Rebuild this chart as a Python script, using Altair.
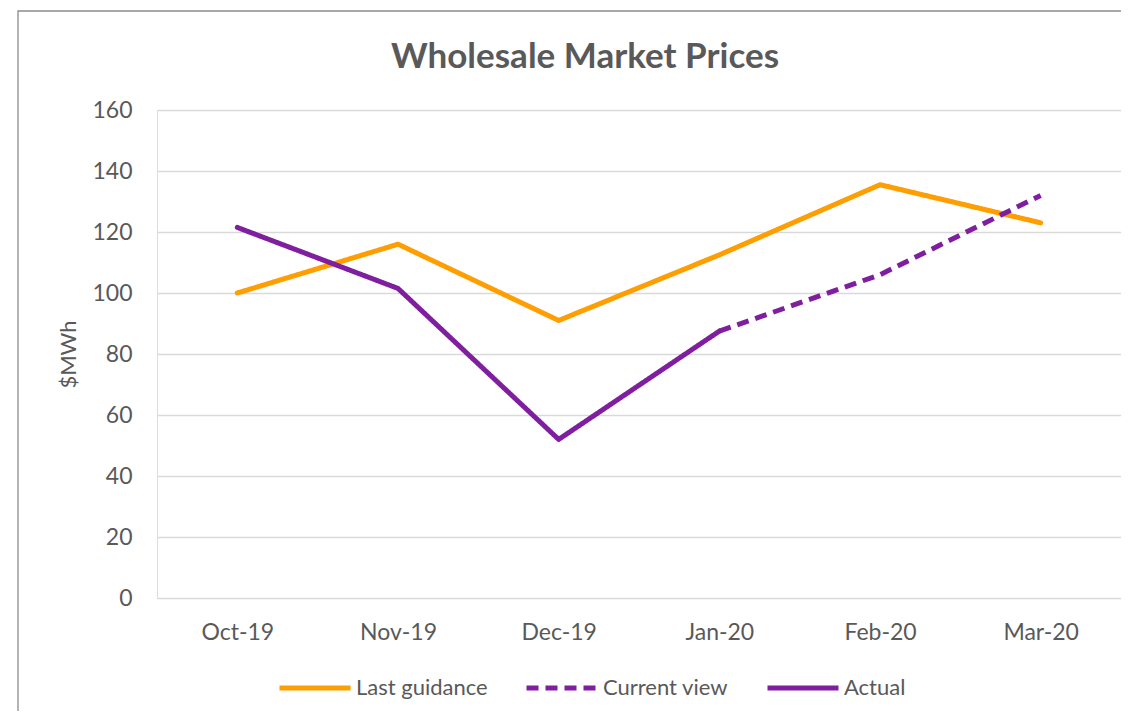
import altair as alt
import pandas as pd

months = ["Oct-19", "Nov-19", "Dec-19", "Jan-20", "Feb-20", "Mar-20"]
series_names = ["Last guidance", "Current view", "Actual"]
last_guidance = [100, 116, 91, 112.5, 135.5, 123]
current_view = [None, None, None, 87.5, 106, 132]
actual = [121.5, 101.5, 52, 87.5, None, None]
y_ticks = [0, 20, 40, 60, 80, 100, 120, 140, 160]

ORANGE = "#FF9E00"
PURPLE = "#7F1F9F"
GREY = "#595959"
FONT = "Lato"

rows = []
for name, vals in zip(series_names, [last_guidance, current_view, actual]):
    for m, v in zip(months, vals):
        if v is not None:
            rows.append({"month": m, "series": name, "value": v})
df = pd.DataFrame(rows)

legend_kw = dict(
    orient="none", legendX=120, legendY=540, direction="horizontal", title=None,
    labelFont=FONT, labelFontSize=22, labelColor=GREY, labelOffset=3,
    symbolType="stroke", symbolSize=5041, symbolStrokeWidth=5, columnPadding=28,
)

base = alt.Chart(df).encode(
    x=alt.X("month:N", sort=months,
            scale=alt.Scale(type="point", padding=0.5),
            axis=alt.Axis(title=None, labelAngle=0, domain=False, ticks=False, grid=False,
                          labelFont=FONT, labelFontSize=23, labelColor=GREY, labelPadding=23)),
    y=alt.Y("value:Q", scale=alt.Scale(domain=[0, 160], nice=False),
            axis=alt.Axis(values=y_ticks, title="$MWh", domain=False, ticks=False,
                          gridColor="#D9D9D9", gridWidth=1.3,
                          labelFont=FONT, labelFontSize=23, labelColor=GREY, labelPadding=25,
                          titleFont=FONT, titleFontSize=22, titleFontWeight="normal",
                          titleColor=GREY, titleAngle=270, titleX=-89, titleY=244,
                          titleAlign="center", titleBaseline="middle")),
    color=alt.Color("series:N", scale=alt.Scale(domain=series_names, range=[ORANGE, PURPLE, PURPLE]),
                    legend=alt.Legend(**legend_kw)),
    strokeDash=alt.StrokeDash("series:N", scale=alt.Scale(domain=series_names, range=[[1, 0], [12, 7], [1, 0]]),
                              legend=alt.Legend(**legend_kw)),
)

line_orange = base.transform_filter(alt.datum.series == "Last guidance").mark_line(
    strokeWidth=5, strokeCap="round", strokeJoin="round")
line_actual = base.transform_filter(alt.datum.series == "Actual").mark_line(
    strokeWidth=5, strokeCap="round", strokeJoin="round")
line_current = base.transform_filter(alt.datum.series == "Current view").mark_line(
    strokeWidth=5, strokeCap="butt", strokeJoin="round")

border = alt.Chart(pd.DataFrame({"a": [0]})).mark_rect(
    fill="transparent", stroke="#8C8C8C", strokeWidth=1.3
).encode(x=alt.value(-139), x2=alt.value(1100), y=alt.value(-99), y2=alt.value(800))

chart = alt.layer(border, line_orange, line_actual, line_current).properties(
    width=964, height=488,
    title=alt.TitleParams("Wholesale Market Prices", font=FONT, fontSize=35, fontWeight="bold",
                          color=GREY, anchor="middle", dx=-54, dy=93, offset=0,
                          baseline="alphabetic"),
    autosize=alt.AutoSizeParams(type="none"),
    padding={"left": 149, "top": 102, "right": 0, "bottom": 113},
).configure_view(stroke=None).configure(background="white")

chart.save("out.html", embed_options={"renderer": "svg", "actions": False})
